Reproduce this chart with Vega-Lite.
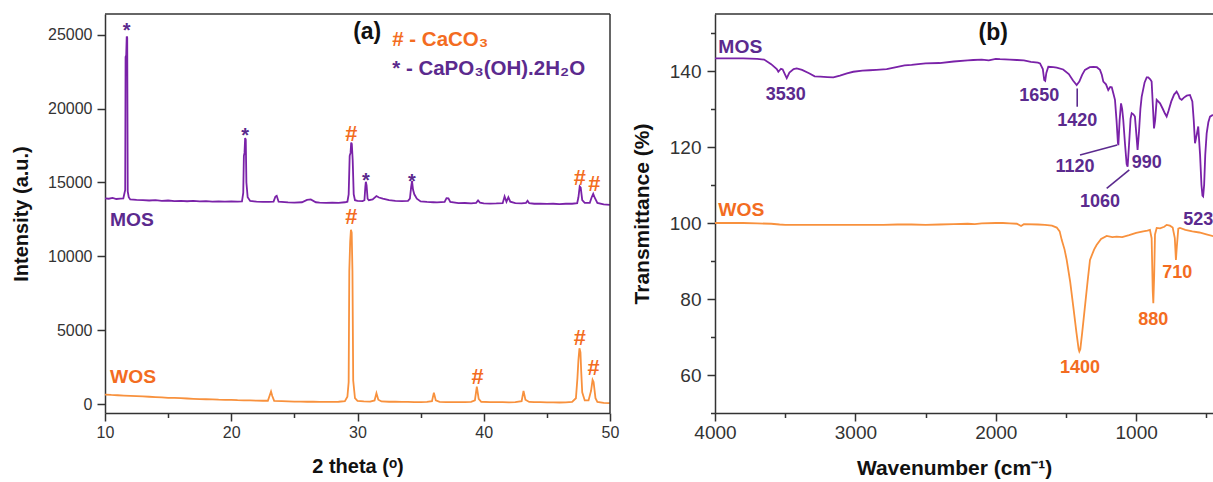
{
  "$schema": "https://vega.github.io/schema/vega-lite/v6.json",
  "autosize": {"type": "none"},
  "padding": {"left": 105, "top": 14, "right": 0, "bottom": 69},
  "width": 1108,
  "height": 399,
  "background": "white",
  "config": {
    "font": "Liberation Sans",
    "view": {"stroke": null},
    "axis": {"grid": false, "labelOverlap": false, "domainColor": "#333333", "domainWidth": 1.5, "tickColor": "#333333", "tickWidth": 1.5, "labelColor": "#333333", "titleColor": "#111111", "labelFont": "Liberation Sans", "titleFont": "Liberation Sans", "titleFontWeight": "bold"}
  },
  "datasets": {
    "xrd": [
      {"t":10.0,"i":13930,"s":"MOS"},{"t":10.3,"i":13900,"s":"MOS"},{"t":10.6,"i":13950,"s":"MOS"},{"t":10.9,"i":13880,"s":"MOS"},{"t":11.2,"i":13900,"s":"MOS"},{"t":11.45,"i":13920,"s":"MOS"},{"t":11.55,"i":14300,"s":"MOS"},{"t":11.6,"i":14500,"s":"MOS"},{"t":11.63,"i":23500,"s":"MOS"},{"t":11.68,"i":23600,"s":"MOS"},{"t":11.72,"i":24880,"s":"MOS"},{"t":11.76,"i":24800,"s":"MOS"},{"t":11.8,"i":14400,"s":"MOS"},{"t":11.88,"i":14000,"s":"MOS"},{"t":12.0,"i":13850,"s":"MOS"},{"t":12.5,"i":13820,"s":"MOS"},{"t":13.0,"i":13800,"s":"MOS"},{"t":13.5,"i":13780,"s":"MOS"},{"t":14.0,"i":13800,"s":"MOS"},{"t":14.5,"i":13760,"s":"MOS"},{"t":15.0,"i":13780,"s":"MOS"},{"t":15.5,"i":13740,"s":"MOS"},{"t":16.0,"i":13760,"s":"MOS"},{"t":16.5,"i":13730,"s":"MOS"},{"t":17.0,"i":13750,"s":"MOS"},{"t":17.5,"i":13720,"s":"MOS"},{"t":18.0,"i":13740,"s":"MOS"},{"t":18.5,"i":13710,"s":"MOS"},{"t":19.0,"i":13720,"s":"MOS"},{"t":19.5,"i":13700,"s":"MOS"},{"t":20.0,"i":13720,"s":"MOS"},{"t":20.5,"i":13700,"s":"MOS"},{"t":20.85,"i":13720,"s":"MOS"},{"t":20.95,"i":14300,"s":"MOS"},{"t":21.0,"i":16800,"s":"MOS"},{"t":21.05,"i":17000,"s":"MOS"},{"t":21.1,"i":18000,"s":"MOS"},{"t":21.15,"i":17900,"s":"MOS"},{"t":21.2,"i":15000,"s":"MOS"},{"t":21.3,"i":14000,"s":"MOS"},{"t":21.5,"i":13750,"s":"MOS"},{"t":22.0,"i":13700,"s":"MOS"},{"t":22.5,"i":13690,"s":"MOS"},{"t":23.0,"i":13680,"s":"MOS"},{"t":23.35,"i":13700,"s":"MOS"},{"t":23.5,"i":14050,"s":"MOS"},{"t":23.6,"i":14100,"s":"MOS"},{"t":23.75,"i":13700,"s":"MOS"},{"t":24.5,"i":13650,"s":"MOS"},{"t":25.0,"i":13640,"s":"MOS"},{"t":25.6,"i":13660,"s":"MOS"},{"t":26.0,"i":13820,"s":"MOS"},{"t":26.3,"i":13850,"s":"MOS"},{"t":26.7,"i":13660,"s":"MOS"},{"t":27.0,"i":13640,"s":"MOS"},{"t":27.5,"i":13620,"s":"MOS"},{"t":28.0,"i":13640,"s":"MOS"},{"t":28.5,"i":13620,"s":"MOS"},{"t":29.0,"i":13660,"s":"MOS"},{"t":29.2,"i":13700,"s":"MOS"},{"t":29.3,"i":14200,"s":"MOS"},{"t":29.38,"i":16800,"s":"MOS"},{"t":29.45,"i":17000,"s":"MOS"},{"t":29.5,"i":17700,"s":"MOS"},{"t":29.55,"i":17600,"s":"MOS"},{"t":29.62,"i":16500,"s":"MOS"},{"t":29.7,"i":14200,"s":"MOS"},{"t":29.8,"i":13800,"s":"MOS"},{"t":30.0,"i":13750,"s":"MOS"},{"t":30.4,"i":13740,"s":"MOS"},{"t":30.55,"i":13800,"s":"MOS"},{"t":30.62,"i":14700,"s":"MOS"},{"t":30.66,"i":15050,"s":"MOS"},{"t":30.72,"i":14800,"s":"MOS"},{"t":30.8,"i":13900,"s":"MOS"},{"t":30.9,"i":13800,"s":"MOS"},{"t":31.2,"i":13850,"s":"MOS"},{"t":31.5,"i":14080,"s":"MOS"},{"t":31.7,"i":13980,"s":"MOS"},{"t":32.0,"i":13900,"s":"MOS"},{"t":32.5,"i":13800,"s":"MOS"},{"t":33.0,"i":13760,"s":"MOS"},{"t":33.5,"i":13740,"s":"MOS"},{"t":34.0,"i":13760,"s":"MOS"},{"t":34.15,"i":13900,"s":"MOS"},{"t":34.25,"i":14700,"s":"MOS"},{"t":34.32,"i":15100,"s":"MOS"},{"t":34.4,"i":14500,"s":"MOS"},{"t":34.5,"i":14200,"s":"MOS"},{"t":34.7,"i":13900,"s":"MOS"},{"t":35.0,"i":13720,"s":"MOS"},{"t":35.5,"i":13680,"s":"MOS"},{"t":36.0,"i":13660,"s":"MOS"},{"t":36.3,"i":13650,"s":"MOS"},{"t":36.9,"i":13680,"s":"MOS"},{"t":37.05,"i":13940,"s":"MOS"},{"t":37.2,"i":13920,"s":"MOS"},{"t":37.35,"i":13680,"s":"MOS"},{"t":38.0,"i":13600,"s":"MOS"},{"t":38.5,"i":13610,"s":"MOS"},{"t":39.0,"i":13590,"s":"MOS"},{"t":39.4,"i":13620,"s":"MOS"},{"t":39.55,"i":13780,"s":"MOS"},{"t":39.7,"i":13640,"s":"MOS"},{"t":40.0,"i":13590,"s":"MOS"},{"t":40.5,"i":13570,"s":"MOS"},{"t":41.0,"i":13580,"s":"MOS"},{"t":41.5,"i":13600,"s":"MOS"},{"t":41.65,"i":14060,"s":"MOS"},{"t":41.8,"i":13700,"s":"MOS"},{"t":41.95,"i":14000,"s":"MOS"},{"t":42.1,"i":13700,"s":"MOS"},{"t":42.5,"i":13600,"s":"MOS"},{"t":43.0,"i":13580,"s":"MOS"},{"t":43.35,"i":13620,"s":"MOS"},{"t":43.47,"i":13760,"s":"MOS"},{"t":43.6,"i":13600,"s":"MOS"},{"t":44.0,"i":13560,"s":"MOS"},{"t":44.5,"i":13570,"s":"MOS"},{"t":45.0,"i":13550,"s":"MOS"},{"t":45.5,"i":13560,"s":"MOS"},{"t":46.0,"i":13540,"s":"MOS"},{"t":46.5,"i":13560,"s":"MOS"},{"t":47.0,"i":13560,"s":"MOS"},{"t":47.4,"i":13600,"s":"MOS"},{"t":47.5,"i":14000,"s":"MOS"},{"t":47.6,"i":14730,"s":"MOS"},{"t":47.68,"i":14650,"s":"MOS"},{"t":47.8,"i":13800,"s":"MOS"},{"t":48.0,"i":13620,"s":"MOS"},{"t":48.4,"i":13620,"s":"MOS"},{"t":48.55,"i":14000,"s":"MOS"},{"t":48.67,"i":14230,"s":"MOS"},{"t":48.8,"i":13950,"s":"MOS"},{"t":49.0,"i":13620,"s":"MOS"},{"t":49.5,"i":13520,"s":"MOS"},{"t":50.0,"i":13490,"s":"MOS"},
      {"t":10.0,"i":650,"s":"WOS"},{"t":10.5,"i":620,"s":"WOS"},{"t":11.0,"i":600,"s":"WOS"},{"t":11.5,"i":580,"s":"WOS"},{"t":12.0,"i":560,"s":"WOS"},{"t":12.5,"i":540,"s":"WOS"},{"t":13.0,"i":520,"s":"WOS"},{"t":13.5,"i":500,"s":"WOS"},{"t":14.0,"i":480,"s":"WOS"},{"t":14.5,"i":460,"s":"WOS"},{"t":15.0,"i":430,"s":"WOS"},{"t":15.5,"i":420,"s":"WOS"},{"t":16.0,"i":400,"s":"WOS"},{"t":16.5,"i":380,"s":"WOS"},{"t":17.0,"i":360,"s":"WOS"},{"t":17.5,"i":340,"s":"WOS"},{"t":18.0,"i":330,"s":"WOS"},{"t":18.5,"i":320,"s":"WOS"},{"t":19.0,"i":300,"s":"WOS"},{"t":19.5,"i":290,"s":"WOS"},{"t":20.0,"i":290,"s":"WOS"},{"t":20.5,"i":270,"s":"WOS"},{"t":21.0,"i":260,"s":"WOS"},{"t":21.5,"i":250,"s":"WOS"},{"t":22.0,"i":240,"s":"WOS"},{"t":22.5,"i":230,"s":"WOS"},{"t":22.9,"i":230,"s":"WOS"},{"t":23.05,"i":600,"s":"WOS"},{"t":23.15,"i":850,"s":"WOS"},{"t":23.25,"i":550,"s":"WOS"},{"t":23.4,"i":220,"s":"WOS"},{"t":24.0,"i":200,"s":"WOS"},{"t":24.5,"i":190,"s":"WOS"},{"t":25.0,"i":170,"s":"WOS"},{"t":25.5,"i":170,"s":"WOS"},{"t":26.0,"i":160,"s":"WOS"},{"t":26.5,"i":160,"s":"WOS"},{"t":27.0,"i":150,"s":"WOS"},{"t":27.5,"i":150,"s":"WOS"},{"t":28.0,"i":150,"s":"WOS"},{"t":28.5,"i":160,"s":"WOS"},{"t":29.0,"i":200,"s":"WOS"},{"t":29.2,"i":500,"s":"WOS"},{"t":29.3,"i":1500,"s":"WOS"},{"t":29.35,"i":9000,"s":"WOS"},{"t":29.42,"i":11000,"s":"WOS"},{"t":29.48,"i":11800,"s":"WOS"},{"t":29.54,"i":11600,"s":"WOS"},{"t":29.6,"i":9000,"s":"WOS"},{"t":29.66,"i":1600,"s":"WOS"},{"t":29.8,"i":400,"s":"WOS"},{"t":30.0,"i":220,"s":"WOS"},{"t":30.5,"i":180,"s":"WOS"},{"t":31.0,"i":170,"s":"WOS"},{"t":31.35,"i":250,"s":"WOS"},{"t":31.5,"i":740,"s":"WOS"},{"t":31.65,"i":300,"s":"WOS"},{"t":31.9,"i":180,"s":"WOS"},{"t":32.5,"i":160,"s":"WOS"},{"t":33.0,"i":160,"s":"WOS"},{"t":33.5,"i":150,"s":"WOS"},{"t":34.0,"i":150,"s":"WOS"},{"t":34.5,"i":140,"s":"WOS"},{"t":35.0,"i":140,"s":"WOS"},{"t":35.5,"i":150,"s":"WOS"},{"t":35.9,"i":200,"s":"WOS"},{"t":36.05,"i":780,"s":"WOS"},{"t":36.2,"i":250,"s":"WOS"},{"t":36.5,"i":150,"s":"WOS"},{"t":37.0,"i":140,"s":"WOS"},{"t":37.5,"i":140,"s":"WOS"},{"t":38.0,"i":130,"s":"WOS"},{"t":38.5,"i":140,"s":"WOS"},{"t":39.0,"i":150,"s":"WOS"},{"t":39.3,"i":250,"s":"WOS"},{"t":39.45,"i":1190,"s":"WOS"},{"t":39.6,"i":350,"s":"WOS"},{"t":39.8,"i":160,"s":"WOS"},{"t":40.5,"i":130,"s":"WOS"},{"t":41.0,"i":130,"s":"WOS"},{"t":41.5,"i":130,"s":"WOS"},{"t":42.0,"i":120,"s":"WOS"},{"t":42.5,"i":130,"s":"WOS"},{"t":43.0,"i":200,"s":"WOS"},{"t":43.15,"i":900,"s":"WOS"},{"t":43.3,"i":300,"s":"WOS"},{"t":43.6,"i":150,"s":"WOS"},{"t":44.0,"i":130,"s":"WOS"},{"t":44.5,"i":130,"s":"WOS"},{"t":45.0,"i":120,"s":"WOS"},{"t":45.5,"i":120,"s":"WOS"},{"t":46.0,"i":110,"s":"WOS"},{"t":46.5,"i":120,"s":"WOS"},{"t":47.0,"i":150,"s":"WOS"},{"t":47.3,"i":400,"s":"WOS"},{"t":47.42,"i":1760,"s":"WOS"},{"t":47.5,"i":3000,"s":"WOS"},{"t":47.58,"i":3780,"s":"WOS"},{"t":47.66,"i":3500,"s":"WOS"},{"t":47.72,"i":2200,"s":"WOS"},{"t":47.8,"i":800,"s":"WOS"},{"t":48.0,"i":250,"s":"WOS"},{"t":48.3,"i":250,"s":"WOS"},{"t":48.5,"i":900,"s":"WOS"},{"t":48.62,"i":1640,"s":"WOS"},{"t":48.7,"i":1500,"s":"WOS"},{"t":48.85,"i":400,"s":"WOS"},{"t":49.0,"i":150,"s":"WOS"},{"t":49.5,"i":90,"s":"WOS"},{"t":50.0,"i":70,"s":"WOS"}
    ],
    "ftir": [
      {"w":4000,"tr":143.3,"s":"MOS"},{"w":3900,"tr":143.3,"s":"MOS"},{"w":3800,"tr":143.3,"s":"MOS"},{"w":3700,"tr":143.2,"s":"MOS"},{"w":3650,"tr":143.0,"s":"MOS"},{"w":3600,"tr":141.8,"s":"MOS"},{"w":3560,"tr":140.5,"s":"MOS"},{"w":3549,"tr":139.8,"s":"MOS"},{"w":3530,"tr":140.6,"s":"MOS"},{"w":3518,"tr":140.4,"s":"MOS"},{"w":3500,"tr":139.0,"s":"MOS"},{"w":3489,"tr":138.1,"s":"MOS"},{"w":3470,"tr":139.6,"s":"MOS"},{"w":3440,"tr":140.5,"s":"MOS"},{"w":3418,"tr":140.7,"s":"MOS"},{"w":3380,"tr":140.3,"s":"MOS"},{"w":3330,"tr":139.4,"s":"MOS"},{"w":3290,"tr":138.6,"s":"MOS"},{"w":3250,"tr":138.5,"s":"MOS"},{"w":3200,"tr":138.4,"s":"MOS"},{"w":3157,"tr":138.3,"s":"MOS"},{"w":3110,"tr":138.8,"s":"MOS"},{"w":3060,"tr":139.4,"s":"MOS"},{"w":3015,"tr":139.8,"s":"MOS"},{"w":2950,"tr":140.1,"s":"MOS"},{"w":2900,"tr":140.2,"s":"MOS"},{"w":2850,"tr":140.3,"s":"MOS"},{"w":2777,"tr":140.5,"s":"MOS"},{"w":2700,"tr":141.1,"s":"MOS"},{"w":2650,"tr":141.5,"s":"MOS"},{"w":2600,"tr":141.6,"s":"MOS"},{"w":2552,"tr":141.8,"s":"MOS"},{"w":2500,"tr":142.0,"s":"MOS"},{"w":2400,"tr":142.1,"s":"MOS"},{"w":2300,"tr":142.5,"s":"MOS"},{"w":2200,"tr":142.8,"s":"MOS"},{"w":2160,"tr":142.9,"s":"MOS"},{"w":2100,"tr":143.0,"s":"MOS"},{"w":2050,"tr":142.8,"s":"MOS"},{"w":2000,"tr":143.2,"s":"MOS"},{"w":1970,"tr":143.1,"s":"MOS"},{"w":1900,"tr":143.0,"s":"MOS"},{"w":1850,"tr":142.9,"s":"MOS"},{"w":1800,"tr":142.8,"s":"MOS"},{"w":1750,"tr":142.4,"s":"MOS"},{"w":1700,"tr":142.2,"s":"MOS"},{"w":1685,"tr":142.0,"s":"MOS"},{"w":1665,"tr":140.5,"s":"MOS"},{"w":1655,"tr":137.6,"s":"MOS"},{"w":1648,"tr":137.4,"s":"MOS"},{"w":1640,"tr":139.5,"s":"MOS"},{"w":1626,"tr":141.1,"s":"MOS"},{"w":1590,"tr":141.0,"s":"MOS"},{"w":1566,"tr":140.9,"s":"MOS"},{"w":1520,"tr":140.4,"s":"MOS"},{"w":1480,"tr":139.2,"s":"MOS"},{"w":1450,"tr":137.5,"s":"MOS"},{"w":1424,"tr":136.3,"s":"MOS"},{"w":1405,"tr":137.2,"s":"MOS"},{"w":1385,"tr":139.0,"s":"MOS"},{"w":1365,"tr":140.3,"s":"MOS"},{"w":1330,"tr":141.0,"s":"MOS"},{"w":1305,"tr":141.1,"s":"MOS"},{"w":1280,"tr":141.0,"s":"MOS"},{"w":1258,"tr":140.3,"s":"MOS"},{"w":1245,"tr":139.0,"s":"MOS"},{"w":1234,"tr":137.2,"s":"MOS"},{"w":1215,"tr":136.5,"s":"MOS"},{"w":1199,"tr":135.0,"s":"MOS"},{"w":1185,"tr":135.8,"s":"MOS"},{"w":1174,"tr":135.7,"s":"MOS"},{"w":1162,"tr":134.0,"s":"MOS"},{"w":1151,"tr":132.4,"s":"MOS"},{"w":1140,"tr":127.0,"s":"MOS"},{"w":1130,"tr":121.0,"s":"MOS"},{"w":1127,"tr":120.5,"s":"MOS"},{"w":1118,"tr":127.0,"s":"MOS"},{"w":1108,"tr":131.5,"s":"MOS"},{"w":1100,"tr":130.0,"s":"MOS"},{"w":1092,"tr":127.1,"s":"MOS"},{"w":1080,"tr":121.0,"s":"MOS"},{"w":1068,"tr":115.5,"s":"MOS"},{"w":1061,"tr":114.8,"s":"MOS"},{"w":1052,"tr":120.0,"s":"MOS"},{"w":1040,"tr":127.5,"s":"MOS"},{"w":1032,"tr":128.9,"s":"MOS"},{"w":1020,"tr":128.6,"s":"MOS"},{"w":1009,"tr":128.0,"s":"MOS"},{"w":998,"tr":123.0,"s":"MOS"},{"w":990,"tr":119.2,"s":"MOS"},{"w":980,"tr":124.0,"s":"MOS"},{"w":970,"tr":130.0,"s":"MOS"},{"w":961,"tr":133.2,"s":"MOS"},{"w":940,"tr":137.0,"s":"MOS"},{"w":925,"tr":138.3,"s":"MOS"},{"w":914,"tr":138.3,"s":"MOS"},{"w":900,"tr":137.8,"s":"MOS"},{"w":890,"tr":137.2,"s":"MOS"},{"w":880,"tr":130.0,"s":"MOS"},{"w":873,"tr":124.9,"s":"MOS"},{"w":865,"tr":127.0,"s":"MOS"},{"w":854,"tr":132.4,"s":"MOS"},{"w":830,"tr":131.5,"s":"MOS"},{"w":810,"tr":130.0,"s":"MOS"},{"w":795,"tr":128.8,"s":"MOS"},{"w":783,"tr":128.0,"s":"MOS"},{"w":770,"tr":129.5,"s":"MOS"},{"w":750,"tr":132.0,"s":"MOS"},{"w":730,"tr":133.8,"s":"MOS"},{"w":712,"tr":134.6,"s":"MOS"},{"w":700,"tr":133.8,"s":"MOS"},{"w":690,"tr":132.8,"s":"MOS"},{"w":676,"tr":132.4,"s":"MOS"},{"w":660,"tr":133.0,"s":"MOS"},{"w":640,"tr":133.5,"s":"MOS"},{"w":617,"tr":133.7,"s":"MOS"},{"w":600,"tr":132.0,"s":"MOS"},{"w":590,"tr":127.0,"s":"MOS"},{"w":581,"tr":121.0,"s":"MOS"},{"w":570,"tr":123.0,"s":"MOS"},{"w":558,"tr":125.4,"s":"MOS"},{"w":545,"tr":118.0,"s":"MOS"},{"w":535,"tr":110.0,"s":"MOS"},{"w":528,"tr":107.2,"s":"MOS"},{"w":523,"tr":107.0,"s":"MOS"},{"w":516,"tr":110.0,"s":"MOS"},{"w":508,"tr":118.0,"s":"MOS"},{"w":498,"tr":123.6,"s":"MOS"},{"w":486,"tr":126.5,"s":"MOS"},{"w":474,"tr":128.0,"s":"MOS"},{"w":460,"tr":128.3,"s":"MOS"},{"w":450,"tr":128.4,"s":"MOS"},{"w":430,"tr":128.2,"s":"MOS"},{"w":405,"tr":128.0,"s":"MOS"},
      {"w":4000,"tr":100.0,"s":"WOS"},{"w":3900,"tr":100.0,"s":"WOS"},{"w":3800,"tr":100.0,"s":"WOS"},{"w":3700,"tr":99.9,"s":"WOS"},{"w":3600,"tr":99.8,"s":"WOS"},{"w":3540,"tr":99.6,"s":"WOS"},{"w":3500,"tr":99.5,"s":"WOS"},{"w":3400,"tr":99.5,"s":"WOS"},{"w":3300,"tr":99.5,"s":"WOS"},{"w":3200,"tr":99.5,"s":"WOS"},{"w":3100,"tr":99.5,"s":"WOS"},{"w":3000,"tr":99.5,"s":"WOS"},{"w":2900,"tr":99.5,"s":"WOS"},{"w":2800,"tr":99.5,"s":"WOS"},{"w":2700,"tr":99.6,"s":"WOS"},{"w":2600,"tr":99.6,"s":"WOS"},{"w":2500,"tr":99.5,"s":"WOS"},{"w":2400,"tr":99.6,"s":"WOS"},{"w":2300,"tr":99.7,"s":"WOS"},{"w":2200,"tr":99.8,"s":"WOS"},{"w":2150,"tr":99.7,"s":"WOS"},{"w":2100,"tr":99.9,"s":"WOS"},{"w":2000,"tr":100.0,"s":"WOS"},{"w":1950,"tr":100.0,"s":"WOS"},{"w":1900,"tr":99.9,"s":"WOS"},{"w":1850,"tr":99.8,"s":"WOS"},{"w":1820,"tr":99.2,"s":"WOS"},{"w":1800,"tr":99.7,"s":"WOS"},{"w":1700,"tr":99.6,"s":"WOS"},{"w":1650,"tr":99.5,"s":"WOS"},{"w":1600,"tr":99.3,"s":"WOS"},{"w":1566,"tr":98.8,"s":"WOS"},{"w":1545,"tr":97.8,"s":"WOS"},{"w":1530,"tr":95.5,"s":"WOS"},{"w":1510,"tr":93.0,"s":"WOS"},{"w":1495,"tr":90.3,"s":"WOS"},{"w":1470,"tr":84.5,"s":"WOS"},{"w":1448,"tr":78.0,"s":"WOS"},{"w":1425,"tr":71.0,"s":"WOS"},{"w":1410,"tr":66.8,"s":"WOS"},{"w":1405,"tr":66.2,"s":"WOS"},{"w":1398,"tr":66.8,"s":"WOS"},{"w":1385,"tr":71.0,"s":"WOS"},{"w":1365,"tr":78.0,"s":"WOS"},{"w":1345,"tr":85.0,"s":"WOS"},{"w":1329,"tr":90.3,"s":"WOS"},{"w":1300,"tr":93.0,"s":"WOS"},{"w":1282,"tr":94.2,"s":"WOS"},{"w":1250,"tr":95.8,"s":"WOS"},{"w":1210,"tr":96.6,"s":"WOS"},{"w":1170,"tr":96.3,"s":"WOS"},{"w":1139,"tr":96.4,"s":"WOS"},{"w":1100,"tr":96.3,"s":"WOS"},{"w":1050,"tr":96.8,"s":"WOS"},{"w":1000,"tr":97.4,"s":"WOS"},{"w":950,"tr":97.8,"s":"WOS"},{"w":920,"tr":98.0,"s":"WOS"},{"w":902,"tr":98.2,"s":"WOS"},{"w":890,"tr":96.0,"s":"WOS"},{"w":882,"tr":82.0,"s":"WOS"},{"w":878,"tr":78.9,"s":"WOS"},{"w":872,"tr":86.0,"s":"WOS"},{"w":866,"tr":97.0,"s":"WOS"},{"w":854,"tr":98.7,"s":"WOS"},{"w":830,"tr":98.6,"s":"WOS"},{"w":800,"tr":99.0,"s":"WOS"},{"w":783,"tr":99.5,"s":"WOS"},{"w":760,"tr":99.3,"s":"WOS"},{"w":740,"tr":98.8,"s":"WOS"},{"w":725,"tr":96.0,"s":"WOS"},{"w":717,"tr":90.3,"s":"WOS"},{"w":710,"tr":94.0,"s":"WOS"},{"w":700,"tr":98.5,"s":"WOS"},{"w":688,"tr":98.7,"s":"WOS"},{"w":650,"tr":98.2,"s":"WOS"},{"w":600,"tr":97.8,"s":"WOS"},{"w":550,"tr":97.5,"s":"WOS"},{"w":500,"tr":97.0,"s":"WOS"},{"w":450,"tr":96.5,"s":"WOS"},{"w":405,"tr":96.2,"s":"WOS"}
    ],
    "xrdCenter": [
      {"t":30.77,"i":25175,"label":"(a)","k":"panel","sz":"big"},
      {"t":29.5,"i":18310,"label":"#","k":"WOS","sz":"mark"},
      {"t":47.6,"i":15270,"label":"#","k":"WOS","sz":"mark"},
      {"t":48.75,"i":14930,"label":"#","k":"WOS","sz":"mark"},
      {"t":29.5,"i":12680,"label":"#","k":"WOS","sz":"mark"},
      {"t":39.5,"i":1865,"label":"#","k":"WOS","sz":"mark"},
      {"t":47.6,"i":4460,"label":"#","k":"WOS","sz":"mark"},
      {"t":48.7,"i":2430,"label":"#","k":"WOS","sz":"mark"}
    ],
    "xrdStar": [
      {"t":11.72,"i":25510,"label":"*","k":"MOS"},
      {"t":21.1,"i":18420,"label":"*","k":"MOS"},
      {"t":30.66,"i":15360,"label":"*","k":"MOS"},
      {"t":34.3,"i":15270,"label":"*","k":"MOS"}
    ],
    "xrdLeft": [
      {"t":32.75,"i":24615,"label":"# - CaCO₃","k":"WOS","sz":"leg"},
      {"t":32.75,"i":22700,"label":"* - CaPO₃(OH).2H₂O","k":"MOS","sz":"leg"},
      {"t":10.4,"i":12450,"label":"MOS","k":"MOS","sz":"name"},
      {"t":10.4,"i":1825,"label":"WOS","k":"WOS","sz":"name"}
    ],
    "xrdFrame": [
      {"t":10,"t2":50,"i":26400,"i2":26400},
      {"t":50,"t2":50,"i":-600,"i2":26400}
    ],
    "ftirFrame": [
      {"w":4000,"w2":403,"tr":155,"tr2":155}
    ],
    "ftirCenter": [
      {"w":2018,"tr":149.9,"label":"(b)","k":"panel","sz":"big"},
      {"w":3496,"tr":133.7,"label":"3530","k":"MOS","sz":"num"},
      {"w":1690,"tr":133.4,"label":"1650","k":"MOS","sz":"num"},
      {"w":1420,"tr":126.9,"label":"1420","k":"MOS","sz":"num"},
      {"w":1436,"tr":114.8,"label":"1120","k":"MOS","sz":"num"},
      {"w":1258,"tr":105.6,"label":"1060","k":"MOS","sz":"num"},
      {"w":1400,"tr":61.8,"label":"1400","k":"WOS","sz":"num"},
      {"w":878,"tr":74.5,"label":"880","k":"WOS","sz":"num"},
      {"w":707,"tr":86.8,"label":"710","k":"WOS","sz":"num"}
    ],
    "ftirLeft": [
      {"w":3976,"tr":146.4,"label":"MOS","k":"MOS","sz":"name"},
      {"w":3976,"tr":103.4,"label":"WOS","k":"WOS","sz":"name"},
      {"w":1032,"tr":115.7,"label":"990","k":"MOS","sz":"num"},
      {"w":665,"tr":100.8,"label":"523","k":"MOS","sz":"num"}
    ],
    "ftirLinks": [
      {"w":1420,"w2":1420,"tr":135.4,"tr2":130.6},
      {"w":1400,"w2":1135,"tr":117.9,"tr2":120.5},
      {"w":1210,"w2":1049,"tr":109.1,"tr2":114.0}
    ]
  },
  "resolve": {"scale": {"x": "independent", "y": "independent"}, "axis": {"x": "independent", "y": "independent"}},
  "layer": [
    {
      "layer": [
        {
          "data": {"name": "xrd"},
          "mark": {"type": "line", "strokeWidth": 1.8},
          "encoding": {
            "x": {"field": "t", "type": "quantitative", "scale": {"domain": [10, 50], "range": [0, 505], "nice": false, "zero": false},
              "axis": {"orient": "bottom", "values": [10,15,20,25,30,35,40,45,50], "labelExpr": "datum.value % 10 === 0 ? datum.label : ''",
                "tickSize": {"condition": {"test": "datum.value % 10 === 0", "value": 8}, "value": 4.5},
                "labelFontSize": 16, "labelPadding": 3, "labelFlush": false,
                "title": "2 theta (ᵒ)", "titleFontSize": 20, "titleX": 252.5, "titleY": 53, "titleBaseline": "middle", "titleAlign": "center"}},
            "y": {"field": "i", "type": "quantitative", "scale": {"domain": [-600, 26400], "range": [399, 0], "nice": false, "zero": false},
              "axis": {"orient": "left", "values": [0,2500,5000,7500,10000,12500,15000,17500,20000,22500,25000], "labelExpr": "datum.value % 5000 === 0 ? datum.label : ''",
                "format": "d",
                "tickSize": {"condition": {"test": "datum.value % 5000 === 0", "value": 8}, "value": 4.5},
                "labelFontSize": 16, "labelPadding": 5,
                "title": "Intensity (a.u.)", "titleFontSize": 20, "titleX": -83.5, "titleY": 199.5, "titleAngle": 270, "titleBaseline": "middle", "titleAlign": "center"}},
            "stroke": {"field": "s", "type": "nominal", "scale": {"domain": ["MOS", "WOS"], "range": ["#7A22A8", "#F8913D"]}, "legend": null}
          }
        },
        {
          "data": {"name": "xrdFrame"},
          "mark": {"type": "rule", "color": "#333333", "strokeWidth": 1.5},
          "encoding": {
            "x": {"field": "t", "type": "quantitative"},
            "x2": {"field": "t2"},
            "y": {"field": "i", "type": "quantitative"},
            "y2": {"field": "i2"}
          }
        },
        {
          "data": {"name": "xrdCenter"},
          "mark": {"type": "text", "align": "center", "baseline": "middle", "fontWeight": "bold", "font": "Liberation Sans"},
          "encoding": {
            "x": {"field": "t", "type": "quantitative"},
            "y": {"field": "i", "type": "quantitative"},
            "text": {"field": "label"},
            "fill": {"field": "k", "type": "nominal", "scale": {"domain": ["MOS", "WOS", "panel"], "range": ["#5B2A8E", "#F36C21", "#111111"]}, "legend": null},
            "size": {"field": "sz", "type": "nominal", "scale": {"domain": ["big", "mark", "leg", "name", "num"], "range": [23, 18, 17, 20, 19]}, "legend": null}
          }
        },
        {
          "data": {"name": "xrdStar"},
          "mark": {"type": "text", "align": "center", "baseline": "middle", "fontWeight": "bold", "font": "Liberation Sans", "fontSize": 20, "dy": 4},
          "encoding": {
            "x": {"field": "t", "type": "quantitative"},
            "y": {"field": "i", "type": "quantitative"},
            "text": {"field": "label"},
            "fill": {"field": "k", "type": "nominal", "scale": {"domain": ["MOS", "WOS", "panel"], "range": ["#5B2A8E", "#F36C21", "#111111"]}, "legend": null}
          }
        },
        {
          "data": {"name": "xrdLeft"},
          "mark": {"type": "text", "align": "left", "baseline": "middle", "fontWeight": "bold", "font": "Liberation Sans"},
          "encoding": {
            "x": {"field": "t", "type": "quantitative"},
            "y": {"field": "i", "type": "quantitative"},
            "text": {"field": "label"},
            "fill": {"field": "k", "type": "nominal", "scale": {"domain": ["MOS", "WOS", "panel"], "range": ["#5B2A8E", "#F36C21", "#111111"]}, "legend": null},
            "size": {"field": "sz", "type": "nominal", "scale": {"domain": ["big", "mark", "leg", "name", "num"], "range": [23, 18, 17, 20, 19]}, "legend": null}
          }
        }
      ]
    },
    {
      "layer": [
        {
          "data": {"name": "ftir"},
          "mark": {"type": "line", "strokeWidth": 1.8, "clip": true},
          "encoding": {
            "x": {"field": "w", "type": "quantitative", "scale": {"domain": [4000, 403], "range": [610, 1115], "nice": false, "zero": false},
              "axis": {"orient": "bottom", "values": [4000,3500,3000,2500,2000,1500,1000,500], "labelExpr": "datum.value % 1000 === 0 ? datum.label : ''",
                "format": "d",
                "tickSize": {"condition": {"test": "datum.value % 1000 === 0", "value": 8}, "value": 4.5},
                "labelFontSize": 19, "labelPadding": 2, "labelFlush": false,
                "title": "Wavenumber (cm⁻¹)", "titleFontSize": 21, "titleX": 849, "titleY": 55, "titleBaseline": "middle", "titleAlign": "center"}},
            "y": {"field": "tr", "type": "quantitative", "scale": {"domain": [50, 155], "range": [399, 0], "nice": false, "zero": false},
              "axis": {"orient": "left", "offset": -610, "values": [50,60,70,80,90,100,110,120,130,140,150], "labelExpr": "datum.value % 20 === 0 && datum.value > 50 ? datum.label : ''",
                "format": "d",
                "tickSize": {"condition": {"test": "datum.value % 20 === 0", "value": 8}, "value": 4.5},
                "labelFontSize": 19, "labelPadding": 6,
                "title": "Transmittance (%)", "titleFontSize": 21, "titleX": -72.5, "titleY": 199.5, "titleAngle": 270, "titleBaseline": "middle", "titleAlign": "center"}},
            "stroke": {"field": "s", "type": "nominal", "scale": {"domain": ["MOS", "WOS"], "range": ["#7A22A8", "#F8913D"]}, "legend": null}
          }
        },
        {
          "data": {"name": "ftirLinks"},
          "mark": {"type": "rule", "strokeWidth": 1.6, "color": "#5B2A8E"},
          "encoding": {
            "x": {"field": "w", "type": "quantitative"},
            "x2": {"field": "w2"},
            "y": {"field": "tr", "type": "quantitative"},
            "y2": {"field": "tr2"}
          }
        },
        {
          "data": {"name": "ftirCenter"},
          "mark": {"type": "text", "align": "center", "baseline": "middle", "fontWeight": "bold", "font": "Liberation Sans"},
          "encoding": {
            "x": {"field": "w", "type": "quantitative"},
            "y": {"field": "tr", "type": "quantitative"},
            "text": {"field": "label"},
            "fill": {"field": "k", "type": "nominal", "scale": {"domain": ["MOS", "WOS", "panel"], "range": ["#5B2A8E", "#F36C21", "#111111"]}, "legend": null},
            "size": {"field": "sz", "type": "nominal", "scale": {"domain": ["big", "mark", "leg", "name", "num"], "range": [23, 18, 17, 20, 19]}, "legend": null}
          }
        },
        {
          "data": {"name": "ftirLeft"},
          "mark": {"type": "text", "align": "left", "baseline": "middle", "fontWeight": "bold", "font": "Liberation Sans"},
          "encoding": {
            "x": {"field": "w", "type": "quantitative"},
            "y": {"field": "tr", "type": "quantitative"},
            "text": {"field": "label"},
            "fill": {"field": "k", "type": "nominal", "scale": {"domain": ["MOS", "WOS", "panel"], "range": ["#5B2A8E", "#F36C21", "#111111"]}, "legend": null},
            "size": {"field": "sz", "type": "nominal", "scale": {"domain": ["big", "mark", "leg", "name", "num"], "range": [23, 18, 17, 20, 19]}, "legend": null}
          }
        }
      ]
    },
    {
      "data": {"name": "ftirFrame"},
      "mark": {"type": "rule", "color": "#333333", "strokeWidth": 1.5},
      "encoding": {
        "x": {"field": "w", "type": "quantitative", "scale": {"domain": [4000, 403], "range": [610, 1115], "nice": false, "zero": false}, "axis": null},
        "x2": {"field": "w2"},
        "y": {"field": "tr", "type": "quantitative", "scale": {"domain": [50, 155], "range": [399, 0], "nice": false, "zero": false},
          "axis": {"orient": "left", "offset": -610, "values": [60, 80, 100, 120, 140], "format": "d", "tickSize": 8, "labelFontSize": 19, "labelPadding": 6, "domain": false, "title": null}},
        "y2": {"field": "tr2"}
      }
    }
  ]
}
